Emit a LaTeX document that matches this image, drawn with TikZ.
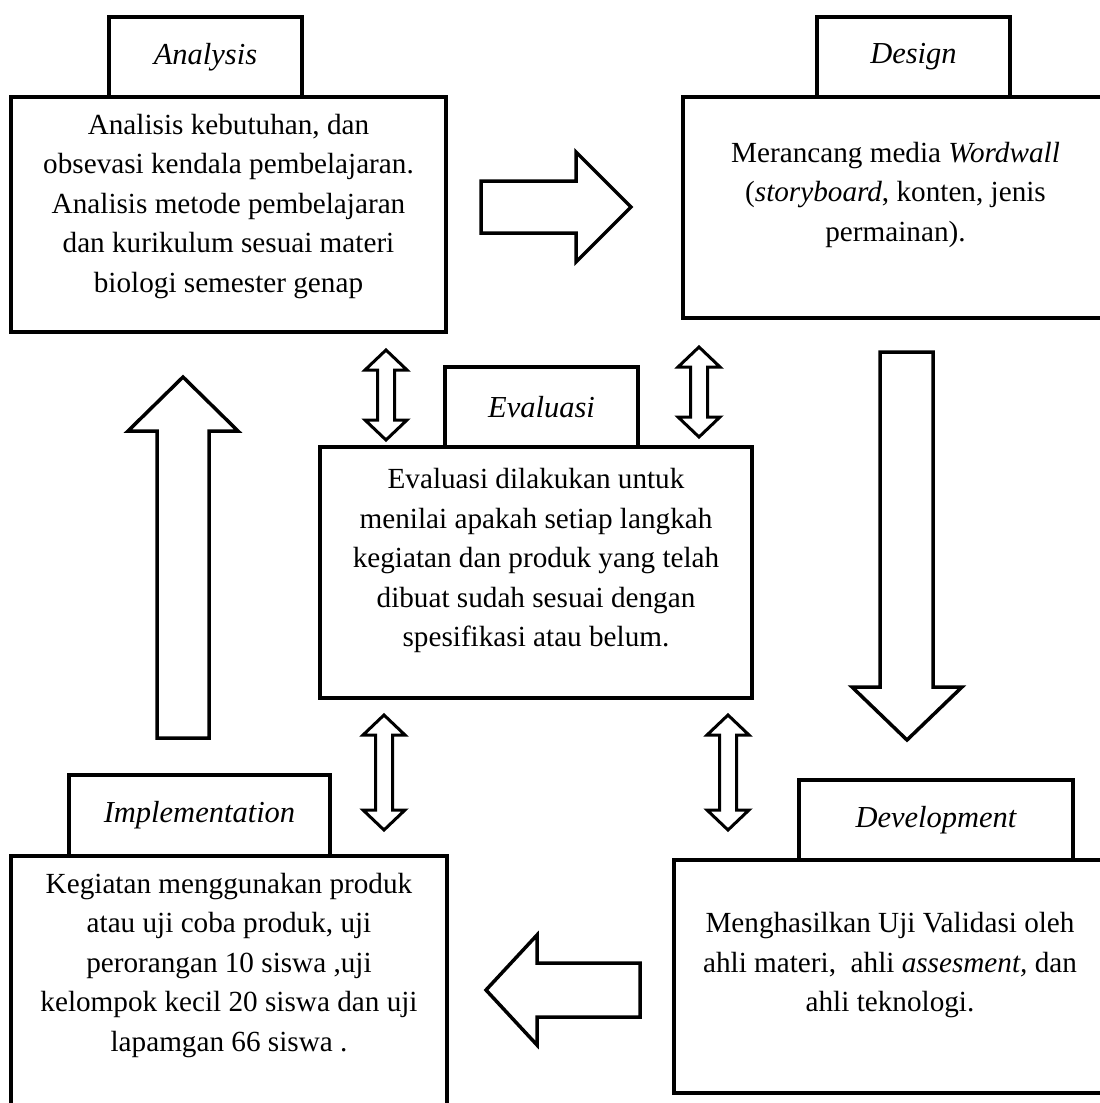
\documentclass[tikz,border=0pt]{standalone}
\usepackage{fontspec}
\setmainfont{Liberation Serif}
\usetikzlibrary{positioning}

\tikzset{
  box/.style={draw, line width=4pt, inner sep=0pt, outer sep=0pt},
  labelbox/.style={box, font=\fontsize{30.5}{36}\selectfont\itshape},
  boxtext/.style={align=center, inner sep=0pt, font=\fontsize{29.2}{39.5}\selectfont},
  blockarrow/.style={draw, line width=3.5pt},
  dblarrow/.style={draw, line width=3pt},
}

\begin{document}
\begin{tikzpicture}[x=1pt, y=-1pt]
 \path[use as bounding box, clip] (0,0) rectangle (1100,1103);

 % main boxes
 \node[box, minimum width=435pt, minimum height=235pt] (anabox) at (228.5,214.5) {};
 \node[box, minimum width=427pt, minimum height=221pt] (desbox) at (896.5,207.5) {};
 \node[box, minimum width=432pt, minimum height=251pt] (evabox) at (536,572.5) {};
 \node[box, minimum width=436pt, minimum height=259pt] (impbox) at (229,985.5) {};
 \node[box, minimum width=436pt, minimum height=233pt] (devbox) at (892,976.5) {};

 % label boxes
 \node[labelbox, minimum width=193pt, minimum height=80pt, above right=0pt and 98pt of anabox.north west] (analabel) {Analysis};
 \node[labelbox, minimum width=193pt, minimum height=80pt, above right=0pt and 134pt of desbox.north west] (deslabel) {Design};
 \node[labelbox, minimum width=193pt, minimum height=80pt, above right=0pt and 125pt of evabox.north west] (evalabel) {Evaluasi};
 \node[labelbox, minimum width=261pt, minimum height=81pt, above right=0pt and 58pt of impbox.north west] (implabel) {Implementation};
 \node[labelbox, minimum width=274pt, minimum height=80pt, above right=0pt and 125pt of devbox.north west] (devlabel) {Development};

 % texts
 \node[boxtext, yshift=8pt] (anatext) at (anabox) {Analisis kebutuhan, dan\\obsevasi kendala pembelajaran.\\Analisis metode pembelajaran\\dan kurikulum sesuai materi\\biologi semester genap};
 \node[boxtext, yshift=13pt, xshift=-1pt] (destext) at (desbox) {Merancang media \textit{Wordwall}\\(\textit{storyboard}, konten, jenis\\permainan).};
 \node[boxtext, yshift=12pt] (evatext) at (evabox) {Evaluasi dilakukan untuk\\menilai apakah setiap langkah\\kegiatan dan produk yang telah\\dibuat sudah sesuai dengan\\spesifikasi atau belum.};
 \node[boxtext, yshift=20pt] (imptext) at (impbox) {Kegiatan menggunakan produk\\atau uji coba produk, uji\\perorangan 10 siswa ,uji\\kelompok kecil 20 siswa dan uji\\lapamgan 66 siswa .};
 \node[boxtext, yshift=11pt, xshift=-2pt] (devtext) at (devbox) {Menghasilkan Uji Validasi oleh\\ahli materi,\ \ ahli \textit{assesment,} dan\\ahli teknologi.};

 % block arrows
 \draw[blockarrow] (481,181) -- (576,181) -- (576,152) -- (631,207) -- (576,262) -- (576,233) -- (481,233) -- cycle;
 \draw[blockarrow] (880,352) -- (933,352) -- (933,687) -- (962,687) -- (907,740) -- (852,687) -- (880,687) -- cycle;
 \draw[blockarrow] (640,963) -- (537,963) -- (537,935) -- (486,990) -- (537,1045) -- (537,1017) -- (640,1017) -- cycle;
 \draw[blockarrow] (157,738) -- (157,431) -- (128,431) -- (183,377) -- (238,431) -- (209,431) -- (209,738) -- cycle;

 % double arrows to evaluasi
 \draw[dblarrow] (386,350) -- (407,370) -- (394.5,370) -- (394.5,420) -- (407,420) -- (386,440) -- (365,420) -- (377.5,420) -- (377.5,370) -- (365,370) -- cycle;
 \draw[dblarrow] (699,347) -- (720,367) -- (707.5,367) -- (707.5,417) -- (720,417) -- (699,437) -- (678,417) -- (690.5,417) -- (690.5,367) -- (678,367) -- cycle;
 \draw[dblarrow] (384,715) -- (405,735) -- (392.5,735) -- (392.5,810) -- (405,810) -- (384,830) -- (363,810) -- (375.5,810) -- (375.5,735) -- (363,735) -- cycle;
 \draw[dblarrow] (728,715) -- (749,735) -- (736.5,735) -- (736.5,810) -- (749,810) -- (728,830) -- (707,810) -- (719.5,810) -- (719.5,735) -- (707,735) -- cycle;
\end{tikzpicture}
\end{document}
